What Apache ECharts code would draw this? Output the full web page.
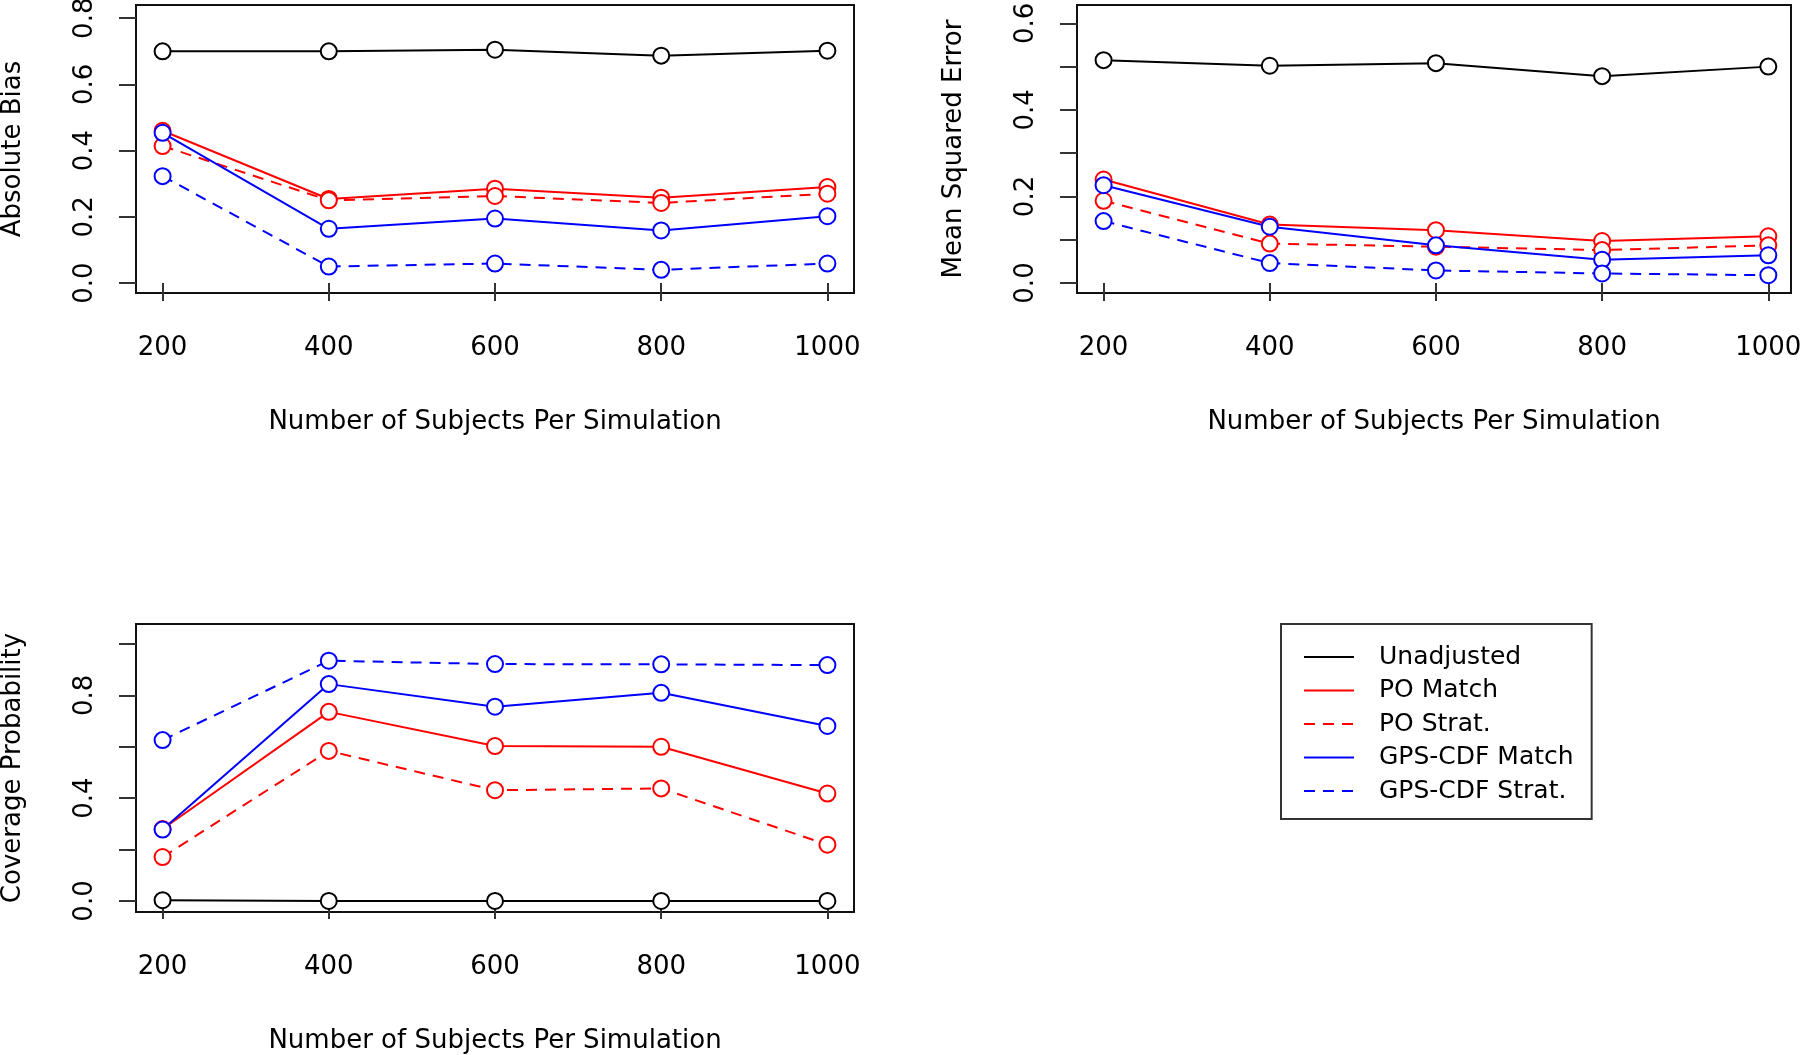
<!DOCTYPE html>
<html>
<head>
<meta charset="utf-8">
<script src="https://cdn.jsdelivr.net/npm/echarts@6/dist/echarts.min.js"></script>
<style>
html,body{margin:0;padding:0;background:#fff;}
#chart{width:1800px;height:1055px;}
</style>
</head>
<body>
<div id="chart"></div>
<script>
// ---- data ----
const nSubjects = [200, 400, 600, 800, 1000];
const seriesNames = ['Unadjusted', 'PO Match', 'PO Strat.', 'GPS-CDF Match', 'GPS-CDF Strat.'];

const biasUnadj    = [0.700, 0.700, 0.705, 0.687, 0.702];
const biasPOMatch  = [0.460, 0.254, 0.285, 0.258, 0.290];
const biasPOStrat  = [0.414, 0.250, 0.263, 0.242, 0.270];
const biasGPSMatch = [0.454, 0.164, 0.195, 0.159, 0.202];
const biasGPSStrat = [0.323, 0.050, 0.059, 0.040, 0.059];

const mseUnadj    = [0.515, 0.502, 0.508, 0.478, 0.500];
const msePOMatch  = [0.239, 0.135, 0.122, 0.097, 0.108];
const msePOStrat  = [0.190, 0.091, 0.084, 0.076, 0.087];
const mseGPSMatch = [0.226, 0.130, 0.087, 0.054, 0.064];
const mseGPSStrat = [0.143, 0.046, 0.029, 0.022, 0.018];

const covUnadj    = [0.003, 0.000, 0.000, 0.000, 0.000];
const covPOMatch  = [0.280, 0.736, 0.603, 0.600, 0.418];
const covPOStrat  = [0.171, 0.584, 0.431, 0.438, 0.219];
const covGPSMatch = [0.278, 0.844, 0.756, 0.810, 0.681];
const covGPSStrat = [0.626, 0.935, 0.922, 0.921, 0.918];

const xTicks = [200, 400, 600, 800, 1000];
const biasTicks = [0, 0.2, 0.4, 0.6, 0.8];
const biasLabels = [0, 0.2, 0.4, 0.6, 0.8];
const mseTicks = [0, 0.1, 0.2, 0.3, 0.4, 0.5, 0.6];
const mseLabels = [0, 0.2, 0.4, 0.6];
const covTicks = [0, 0.2, 0.4, 0.6, 0.8, 1.0];
const covLabels = [0, 0.4, 0.8];

const yTitles = ['Absolute Bias', 'Mean Squared Error', 'Coverage Probability'];
const xTitle = 'Number of Subjects Per Simulation';

// ---- styles ----
const FONT = 'DejaVu Sans';
const colors = ['#000000', '#ff0000', '#ff0000', '#0000ff', '#0000ff'];
const dashes = ['solid', 'solid', [11, 8], 'solid', [11, 8]];

const panels = [
  {vals: [biasUnadj, biasPOMatch, biasPOStrat, biasGPSMatch, biasGPSStrat], ticks: biasTicks, labels: biasLabels,
   grid: {left: 136, top: 5, width: 718, height: 288}, xmin: 168, xmax: 1032, ymin: -0.030, ymax: 0.840},
  {vals: [mseUnadj, msePOMatch, msePOStrat, mseGPSMatch, mseGPSStrat], ticks: mseTicks, labels: mseLabels,
   grid: {left: 1077, top: 5, width: 714, height: 288}, xmin: 168, xmax: 1027.3, ymin: -0.0231, ymax: 0.6424},
  {vals: [covUnadj, covPOMatch, covPOStrat, covGPSMatch, covGPSStrat], ticks: covTicks, labels: covLabels,
   grid: {left: 136, top: 624, width: 718, height: 288}, xmin: 168, xmax: 1032, ymin: -0.043, ymax: 1.078}
];

const grids = [], xAxes = [], yAxes = [], series = [];
panels.forEach((p, i) => {
  grids.push(Object.assign({show: true, borderColor: '#111', borderWidth: 2, backgroundColor: '#fff', containLabel: false, outerBoundsMode: 'none'}, p.grid));
  xAxes.push({
    type: 'value', gridIndex: i, min: p.xmin, max: p.xmax,
    name: xTitle, nameLocation: 'middle', nameGap: 116,
    nameTextStyle: {fontFamily: FONT, fontSize: 26, color: '#000'},
    axisLine: {show: false}, splitLine: {show: false},
    axisTick: {show: true, customValues: xTicks, length: 18, lineStyle: {color: '#333', width: 2}},
    axisLabel: {customValues: xTicks, margin: 42, fontFamily: FONT, fontSize: 26, color: '#000', formatter: v => String(v)}
  });
  yAxes.push({
    type: 'value', gridIndex: i, min: p.ymin, max: p.ymax,
    name: yTitles[i], nameLocation: 'middle', nameGap: 110, nameRotate: 90,
    nameTextStyle: {fontFamily: FONT, fontSize: 26, color: '#000'},
    axisLine: {show: false}, splitLine: {show: false},
    axisTick: {show: true, customValues: p.ticks, length: 17, lineStyle: {color: '#333', width: 2}},
    axisLabel: {customValues: p.labels, rotate: 90, margin: 38, fontFamily: FONT, fontSize: 26, color: '#000', formatter: v => v.toFixed(1)}
  });
  p.vals.forEach((arr, k) => {
    series.push({
      name: seriesNames[k], type: 'line', xAxisIndex: i, yAxisIndex: i,
      data: nSubjects.map((x, j) => [x, arr[j]]),
      symbol: 'emptyCircle', symbolSize: 16,
      lineStyle: {color: colors[k], width: 2, type: dashes[k]},
      itemStyle: {color: colors[k], borderColor: colors[k], borderWidth: 2},
      emphasis: {disabled: true}, animation: false
    });
  });
});

const chart = echarts.init(document.getElementById('chart'), null, {renderer: 'canvas'});
chart.setOption({
  backgroundColor: '#fff',
  animation: false,
  grid: grids, xAxis: xAxes, yAxis: yAxes, series: series,
  legend: {
    data: seriesNames, orient: 'vertical', left: 1281, top: 624,
    padding: [17, 18, 12, 22], itemGap: 1.5, itemWidth: 50, itemHeight: 14,
    borderColor: '#333', borderWidth: 2, backgroundColor: '#fff',
    itemStyle: {opacity: 0},
    textStyle: {fontFamily: FONT, fontSize: 25, color: '#000', lineHeight: 32, padding: [0, 0, 0, 20]},
    selectedMode: false
  }
});
</script>
</body>
</html>
